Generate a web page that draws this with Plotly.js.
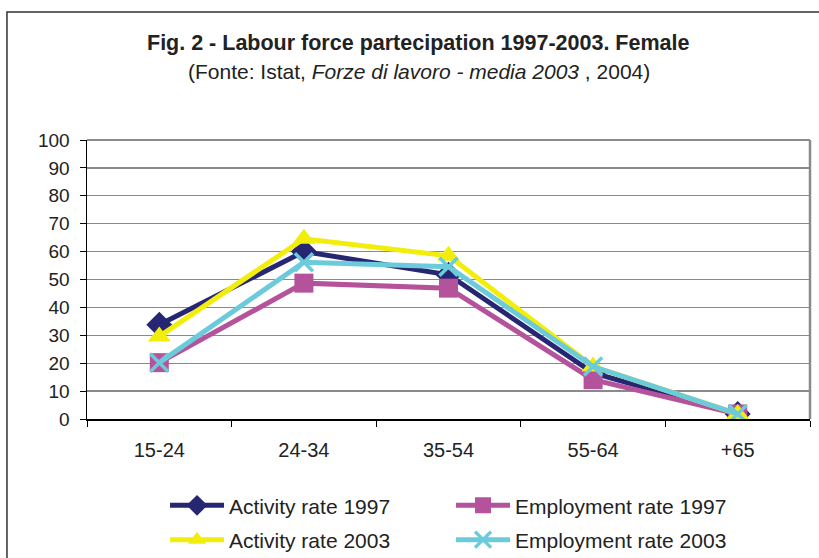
<!DOCTYPE html>
<html><head><meta charset="utf-8">
<script src="https://cdn.plot.ly/plotly-3.0.1.min.js"></script>
<style>body{margin:0;background:#fff}#c{width:819px;height:558px}</style>
</head><body><div id="c"></div>
<script>
var categories = ["15-24", "24-34", "35-54", "55-64", "+65"];
var activity1997 = [33.8, 60.0, 51.7, 16.5, 1.8];
var employment1997 = [20.2, 48.7, 46.9, 14.1, 1.8];
var activity2003 = [29.6, 64.6, 58.5, 18.8, 1.8];
var employment2003 = [20.2, 56.2, 54.6, 18.8, 1.8];
var yTicks = [0,10,20,30,40,50,60,70,80,90,100];

var font = "Liberation Sans, Arial, sans-serif";
function tr(name, y, color, symbol, size, legend, order){
  return {x: categories, y: y, name: name, type: "scatter", mode: "lines+markers",
    line: {color: color, width: 5},
    marker: {symbol: symbol, size: size, color: color, line: {color: color, width: symbol==="x-thin"?3.5:0}},
    legend: legend, legendrank: order};
}
var data = [
  tr("Activity rate 1997", activity1997, "#262673", "diamond", 20, "legend", 1),
  tr("Employment rate 1997", employment1997, "#b5529c", "square", 19, "legend", 2),
  tr("Activity rate 2003", activity2003, "#f2ed0a", "triangle-up", 20, "legend2", 1),
  tr("Employment rate 2003", employment2003, "#6ccbdb", "x-thin", 18, "legend2", 2)
];
var legBase = {orientation: "h", xref: "container", yref: "container", x: 0.2015, xanchor: "left", yanchor: "middle",
  font: {family: font, size: 21, color: "#222"}, bgcolor: "rgba(0,0,0,0)",
  itemwidth: 54, entrywidth: 217, entrywidthmode: "pixels", itemclick: false};
var layout = {
  width: 819, height: 558,
  margin: {l: 87, r: 9, t: 140, b: 139},
  paper_bgcolor: "#fff", plot_bgcolor: "#fff",
  showlegend: true,
  legend: Object.assign({}, legBase, {y: 0.0937}),
  legend2: Object.assign({}, legBase, {y: 0.0323}),
  xaxis: {type: "category", range: [-0.5, 4.5], showgrid: false, showline: true, linecolor: "#000", linewidth: 1.5,
    ticks: "outside", ticklen: 6, tickcolor: "#000", tickson: "boundaries", ticklabelstandoff: 12,
    tickfont: {family: font, size: 20, color: "#222"}, zeroline: false, fixedrange: true},
  yaxis: {range: [0, 100], tickvals: yTicks, ticktext: yTicks.map(String),
    showgrid: true, gridcolor: "#8a8a8a", gridwidth: 1.3,
    showline: true, linecolor: "#000", linewidth: 1.5, ticks: "outside", ticklen: 6, tickcolor: "#000",
    ticklabelstandoff: 6,
    tickfont: {family: font, size: 19, color: "#222"}, zeroline: false, fixedrange: true},
  shapes: [
    {type: "rect", xref: "paper", yref: "paper", x0: -0.1107, x1: 1.2, y0: -0.7, y1: 1.4588,
     line: {color: "#333", width: 1.5}},
    {type: "line", xref: "paper", yref: "paper", x0: 1, x1: 1, y0: 0, y1: 1, layer: "below",
     line: {color: "#8a8a8a", width: 2.5}},
    {type: "line", xref: "paper", yref: "paper", x0: 0, x1: 1, y0: 1, y1: 1, layer: "below",
     line: {color: "#8a8a8a", width: 2}}
  ],
  annotations: [
    {xref: "paper", yref: "paper", x: (418 - 87) / 723, y: (419 - 43) / 279, showarrow: false, xanchor: "center", yanchor: "middle",
     text: "<b>Fig. 2 - Labour force partecipation 1997-2003. Female</b>",
     font: {family: font, size: 21.5, color: "#222"}},
    {xref: "paper", yref: "paper", x: (419 - 87) / 723, y: (419 - 72) / 279, showarrow: false, xanchor: "center", yanchor: "middle",
     text: "(Fonte: Istat, <i>Forze di lavoro - media 2003</i> , 2004)",
     font: {family: font, size: 21, color: "#222"}}
  ]
};
Plotly.newPlot("c", data, layout, {displayModeBar: false, staticPlot: true});
</script></body></html>
